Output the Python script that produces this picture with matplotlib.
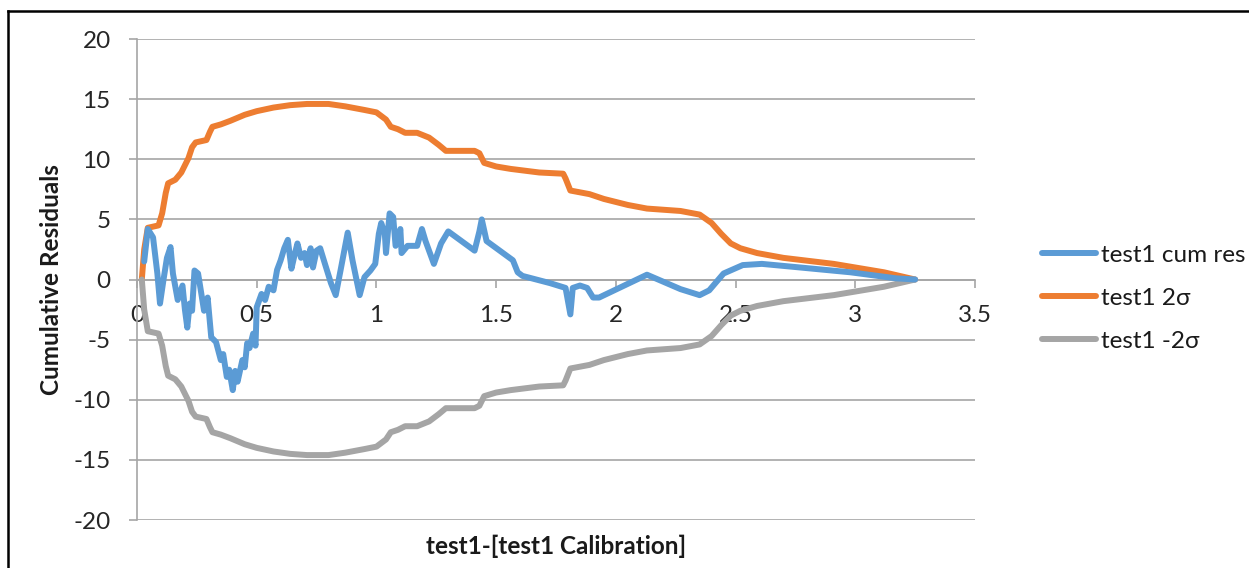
"""
Cumulative residuals of test1 against its calibration, with the
+/- 2 sigma envelope.
"""

import matplotlib
matplotlib.use("Agg")
import matplotlib.pyplot as plt
from matplotlib.lines import Line2D
from matplotlib.ticker import FuncFormatter, MultipleLocator

# Data
# ----------------------------------------------------------------------
cum_res_x = [0.03, 0.045, 0.067, 0.085, 0.096, 0.11, 0.125, 0.14, 0.15, 0.17,
             0.19, 0.20, 0.21, 0.22, 0.23, 0.24, 0.255, 0.26, 0.28, 0.295,
             0.31, 0.33, 0.35, 0.36, 0.375, 0.385, 0.40, 0.41, 0.42, 0.44,
             0.45, 0.46, 0.47, 0.485, 0.495, 0.50, 0.52, 0.535, 0.55, 0.57,
             0.585, 0.60, 0.615, 0.63, 0.645, 0.66, 0.67, 0.685, 0.70, 0.71,
             0.725, 0.735, 0.75, 0.765, 0.785, 0.81, 0.83, 0.85, 0.88, 0.90,
             0.93, 0.95, 0.975, 0.995, 1.01, 1.02, 1.035, 1.04, 1.055, 1.07,
             1.08, 1.10, 1.105, 1.13, 1.17, 1.19, 1.205, 1.24, 1.27, 1.30,
             1.41, 1.43, 1.44, 1.46, 1.57, 1.59, 1.61, 1.725, 1.79, 1.81,
             1.82, 1.85, 1.88, 1.905, 1.93, 2.13, 2.27, 2.35, 2.39, 2.45,
             2.53, 2.61, 2.77, 2.98, 3.17, 3.25]
cum_res_y = [1.5, 4.2, 3.5, 0.5, -2.0, -0.1, 1.8, 2.7, 0.5, -1.7,
             -0.5, -2.5, -4.0, -2.0, -2.6, 0.75, 0.5, -0.1, -2.6, -1.5,
             -4.8, -5.2, -6.7, -6.2, -8.1, -7.5, -9.2, -7.6, -8.5, -6.7,
             -7.3, -5.3, -5.7, -4.5, -5.5, -2.3, -1.2, -1.7, -0.6, -0.9,
             0.8, 1.6, 2.6, 3.3, 0.9, 2.2, 3.0, 1.8, 2.2, 1.2,
             2.6, 1.0, 2.4, 2.6, 1.3, -0.3, -1.3, 0.75, 3.9, 1.6,
             -1.3, 0.2, 0.75, 1.3, 3.8, 4.7, 3.8, 2.2, 5.5, 5.2,
             2.8, 4.2, 2.2, 2.8, 2.8, 4.2, 3.2, 1.3, 3.0, 4.0,
             2.4, 4.0, 5.0, 3.2, 1.6, 0.6, 0.3, -0.3, -0.7, -2.9,
             -0.7, -0.5, -0.7, -1.5, -1.5, 0.4, -0.8, -1.3, -0.9, 0.5,
             1.2, 1.3, 1.0, 0.6, 0.1, 0.0]

sigma_x = [0.02, 0.03, 0.045, 0.09, 0.105, 0.12, 0.13, 0.16, 0.185, 0.205,
           0.215, 0.23, 0.245, 0.29, 0.305, 0.315, 0.35, 0.39, 0.45, 0.50,
           0.57, 0.64, 0.71, 0.80, 0.87, 0.95, 1.00, 1.02, 1.04, 1.06,
           1.09, 1.12, 1.17, 1.22, 1.26, 1.29, 1.41, 1.43, 1.45, 1.50,
           1.56, 1.68, 1.78, 1.79, 1.81, 1.89, 1.95, 2.05, 2.13, 2.27,
           2.35, 2.40, 2.44, 2.48, 2.52, 2.59, 2.70, 2.91, 3.12, 3.25]
plus_2sigma = [0.0, 2.5, 4.3, 4.5, 5.5, 7.2, 8.0, 8.3, 8.9, 9.7,
               10.1, 11.0, 11.4, 11.6, 12.3, 12.7, 12.9, 13.2, 13.7, 14.0,
               14.3, 14.5, 14.6, 14.6, 14.4, 14.1, 13.9, 13.6, 13.3, 12.7,
               12.5, 12.2, 12.2, 11.8, 11.2, 10.7, 10.7, 10.5, 9.7, 9.4,
               9.2, 8.9, 8.8, 8.4, 7.4, 7.1, 6.7, 6.2, 5.9, 5.7,
               5.4, 4.7, 3.8, 3.0, 2.6, 2.2, 1.8, 1.3, 0.6, 0.0]
minus_2sigma = [-0.0, -2.5, -4.3, -4.5, -5.5, -7.2, -8.0, -8.3, -8.9, -9.7,
                -10.1, -11.0, -11.4, -11.6, -12.3, -12.7, -12.9, -13.2, -13.7, -14.0,
                -14.3, -14.5, -14.6, -14.6, -14.4, -14.1, -13.9, -13.6, -13.3, -12.7,
                -12.5, -12.2, -12.2, -11.8, -11.2, -10.7, -10.7, -10.5, -9.7, -9.4,
                -9.2, -8.9, -8.8, -8.4, -7.4, -7.1, -6.7, -6.2, -5.9, -5.7,
                -5.4, -4.7, -3.8, -3.0, -2.6, -2.2, -1.8, -1.3, -0.6, -0.0]

series_labels = ["test1 cum res", "test1 2\u03c3", "test1 -2\u03c3"]
XLABEL = "test1-[test1 Calibration]"
YLABEL = "Cumulative Residuals"
# ----------------------------------------------------------------------

# Style
BLUE = "#5B9BD5"
ORANGE = "#ED7D31"
GRAY = "#A5A5A5"
GRID = "#A6A6A6"
TEXT = "#262626"
LINEWIDTH = 4.3
FONTSIZE = 17.5

plt.rcParams["font.family"] = ["Lato", "DejaVu Sans"]
plt.rcParams["axes.unicode_minus"] = False

fig = plt.figure(figsize=(12.49, 5.68), dpi=100)
ax = fig.add_axes([0.1097, 0.0845, 0.6709, 0.8468])

ax.plot(cum_res_x, cum_res_y, color=BLUE, lw=LINEWIDTH,
        solid_joinstyle="round", solid_capstyle="round", label=series_labels[0], zorder=4)
ax.plot(sigma_x, plus_2sigma, color=ORANGE, lw=LINEWIDTH,
        solid_joinstyle="round", solid_capstyle="round", label=series_labels[1], zorder=3)
ax.plot(sigma_x, minus_2sigma, color=GRAY, lw=LINEWIDTH,
        solid_joinstyle="round", solid_capstyle="round", label=series_labels[2], zorder=3)

ax.set_xlim(0, 3.5)
ax.set_ylim(-20, 20)
ax.xaxis.set_major_locator(MultipleLocator(0.5))
ax.yaxis.set_major_locator(MultipleLocator(5))
ax.xaxis.set_major_formatter(FuncFormatter(lambda v, p: "%g" % v))

# horizontal grid, y axis at the left, x axis through zero
ax.grid(axis="y", color=GRID, lw=1.2)
ax.set_axisbelow(True)
for side in ("top", "right"):
    ax.spines[side].set_visible(False)
ax.spines["left"].set_color(GRID)
ax.spines["left"].set_linewidth(1.2)
ax.spines["bottom"].set_position(("data", 0))
ax.spines["bottom"].set_color(GRID)
ax.spines["bottom"].set_linewidth(1.2)
ax.tick_params(axis="both", colors=GRID, width=1.2, length=6,
               labelcolor=TEXT, labelsize=FONTSIZE)
ax.tick_params(axis="y", pad=13)
ax.tick_params(axis="x", pad=12)

ax.set_xlabel(XLABEL, fontsize=FONTSIZE, fontweight="bold", color="#1a1a1a", labelpad=0)
ax.xaxis.set_label_coords(0.5, -0.03)
ax.set_ylabel(YLABEL, fontsize=FONTSIZE, fontweight="bold", color="#1a1a1a")
ax.yaxis.set_label_coords(-0.088, 0.5)

fig.legend(loc="center left", bbox_to_anchor=(0.8247, 0.475), frameon=False,
           fontsize=FONTSIZE, handlelength=2.2, handletextpad=0.2,
           labelspacing=0.9, borderpad=0, labelcolor="#1a1a1a")

# outer border of the chart area
fig.add_artist(Line2D([8 / 1249, 1.0], [1 - 11 / 568, 1 - 11 / 568],
                      transform=fig.transFigure, color="black", lw=1.8))
fig.add_artist(Line2D([8 / 1249, 8 / 1249], [0.0, 1 - 11 / 568],
                      transform=fig.transFigure, color="black", lw=1.8))

fig.savefig("out.png", dpi=100)
